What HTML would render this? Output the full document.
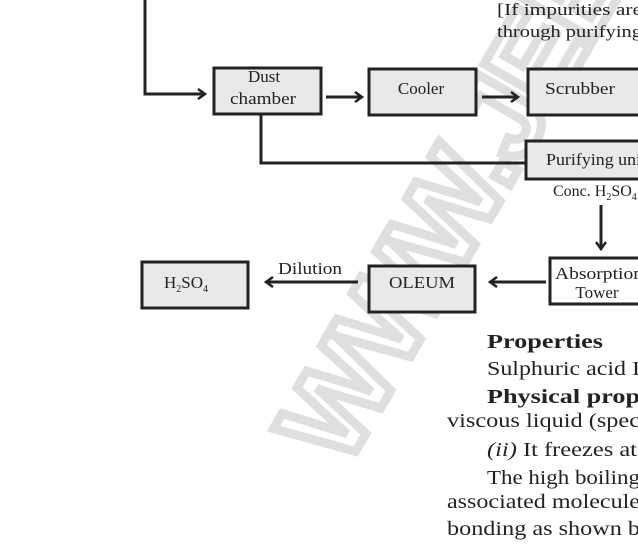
<!DOCTYPE html>
<html><head><meta charset="utf-8"><style>
html,body{margin:0;padding:0;background:#fff;overflow:hidden;}
svg{display:block;}
text{font-family:"Liberation Serif",serif;fill:#222;}
</style></head><body>
<svg width="638" height="547" viewBox="0 0 638 547" xmlns="http://www.w3.org/2000/svg">
<defs>
<marker id="a" markerWidth="10" markerHeight="12" refX="8" refY="6" orient="auto" markerUnits="userSpaceOnUse">
<path d="M1,1 L8,6 L1,11" fill="none" stroke="#222" stroke-width="2.5"/>
</marker>
</defs>
<g transform="translate(345,470) rotate(-60)" opacity="0.3">
<text x="0" y="0" font-size="120" font-weight="bold" stroke="#999" stroke-width="9" style="fill:none;font-family:'Liberation Sans',sans-serif" letter-spacing="-4">WWW.JEE</text>
</g>
<g stroke="#222" stroke-width="3" fill="none">
<polyline points="145,0 145,94 205,94" marker-end="url(#a)"/>
<line x1="326" y1="97" x2="362" y2="97" marker-end="url(#a)"/>
<line x1="482" y1="97" x2="518" y2="97" marker-end="url(#a)"/>
<polyline points="261,115 261,163 526,163"/>
<line x1="601" y1="205" x2="601" y2="249" marker-end="url(#a)"/>
<line x1="546" y1="282" x2="490" y2="282" marker-end="url(#a)"/>
<line x1="358" y1="282" x2="266" y2="282" marker-end="url(#a)"/>
</g>
<g stroke="#222" stroke-width="3" fill="#e9e9e9">
<rect x="214" y="68" width="107" height="46"/>
<rect x="369" y="69" width="107" height="46"/>
<rect x="528" y="69" width="115" height="46"/>
<rect x="526" y="141" width="117" height="38"/>
<rect x="550" y="258" width="95" height="46" fill="#fff"/>
<rect x="369" y="266" width="106" height="46"/>
<rect x="142" y="262" width="106" height="46"/>
</g>
<g font-size="17" lengthAdjust="spacingAndGlyphs">
<text x="497" y="15" textLength="145" lengthAdjust="spacingAndGlyphs">[If impurities are</text>
<text x="497" y="37" textLength="145" lengthAdjust="spacingAndGlyphs">through purifying</text>
<text x="264" y="82" text-anchor="middle">Dust</text>
<text x="230" y="104" textLength="66" lengthAdjust="spacingAndGlyphs">chamber</text>
<text x="421" y="94" text-anchor="middle">Cooler</text>
<text x="545" y="94" textLength="70" lengthAdjust="spacingAndGlyphs">Scrubber</text>
<text x="546" y="165" textLength="100" lengthAdjust="spacingAndGlyphs">Purifying unit</text>
<text x="553" y="196" font-size="16">Conc. H<tspan font-size="10" dy="4">2</tspan><tspan dy="-4">SO</tspan><tspan font-size="10" dy="4">4</tspan></text>
<text x="555" y="279" textLength="88" lengthAdjust="spacingAndGlyphs">Absorption</text>
<text x="597" y="298" text-anchor="middle">Tower</text>
<text x="389" y="288" textLength="66" lengthAdjust="spacingAndGlyphs">OLEUM</text>
<text x="278" y="274" textLength="64" lengthAdjust="spacingAndGlyphs">Dilution</text>
<text x="164" y="288">H<tspan font-size="10" dy="4">2</tspan><tspan dy="-4">SO</tspan><tspan font-size="10" dy="4">4</tspan></text>
</g>
<g font-size="20">
<text x="487" y="348" font-weight="bold" textLength="116" lengthAdjust="spacingAndGlyphs">Properties</text>
<text x="487" y="375" textLength="153" lengthAdjust="spacingAndGlyphs">Sulphuric acid I</text>
<text x="487" y="403" font-weight="bold" textLength="153" lengthAdjust="spacingAndGlyphs">Physical prop</text>
<text x="447" y="427" textLength="193" lengthAdjust="spacingAndGlyphs">viscous liquid (spec</text>
<text x="487" y="456" textLength="150" lengthAdjust="spacingAndGlyphs"><tspan font-style="italic">(ii)</tspan> It freezes at</text>
<text x="487" y="484" textLength="153" lengthAdjust="spacingAndGlyphs">The high boiling</text>
<text x="447" y="508" textLength="193" lengthAdjust="spacingAndGlyphs">associated molecule</text>
<text x="447" y="535" textLength="193" lengthAdjust="spacingAndGlyphs">bonding as shown b</text>
</g>
</svg>
</body></html>
